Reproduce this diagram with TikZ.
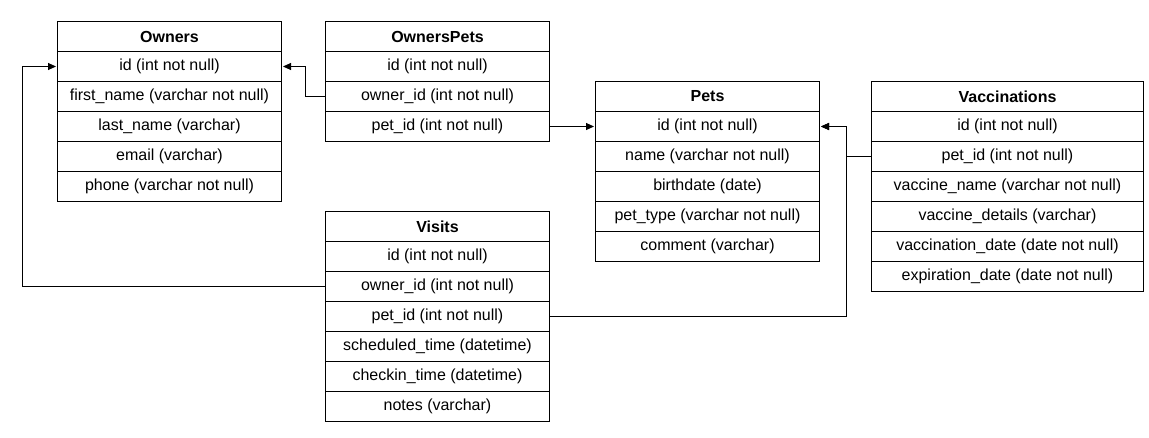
\documentclass[tikz,border=0pt]{standalone}
\usepackage{fontspec}
\setmainfont{Liberation Sans}
\usetikzlibrary{arrows.meta}
\tikzset{
  cell/.style={draw=black, line width=1pt, minimum height=30pt, inner sep=0pt, anchor=north west, font=\fontsize{16}{19}\selectfont},
  hdr/.style={cell, font=\fontsize{16}{19}\selectfont\bfseries},
  narrow/.style={minimum width=224pt},
  wide/.style={minimum width=272pt},
  conn/.style={draw=black, line width=1pt, -{Triangle[length=8pt,width=7pt]}, shorten >=1pt},
  plain/.style={draw=black, line width=1pt},
}
\begin{document}
\begin{tikzpicture}[x=1pt, y=-1pt]
\fill[white] (0,0) rectangle (1149,437);
\useasboundingbox (0,0) rectangle (1149,437);
% Owners
\node[hdr, narrow] (ow) at (57,21) {Owners};
\node[cell, narrow] (owid) at (57,51) {id (int not null)};
\node[cell, narrow] (owfn) at (57,81) {first\_name (varchar not null)};
\node[cell, narrow] (owln) at (57,111) {last\_name (varchar)};
\node[cell, narrow] (owem) at (57,141) {email (varchar)};
\node[cell, narrow] (owph) at (57,171) {phone (varchar not null)};
% OwnersPets
\node[hdr, narrow] (op) at (325,21) {OwnersPets};
\node[cell, narrow] (opid) at (325,51) {id (int not null)};
\node[cell, narrow] (opown) at (325,81) {owner\_id (int not null)};
\node[cell, narrow] (oppet) at (325,111) {pet\_id (int not null)};
% Pets
\node[hdr, narrow] (pt) at (595,81) {Pets};
\node[cell, narrow] (ptid) at (595,111) {id (int not null)};
\node[cell, narrow] (ptnm) at (595,141) {name (varchar not null)};
\node[cell, narrow] (ptbd) at (595,171) {birthdate (date)};
\node[cell, narrow] (ptty) at (595,201) {pet\_type (varchar not null)};
\node[cell, narrow] (ptcm) at (595,231) {comment (varchar)};
% Vaccinations
\node[hdr, wide] (va) at (871,81) {Vaccinations};
\node[cell, wide] (vaid) at (871,111) {id (int not null)};
\node[cell, wide] (vapet) at (871,141) {pet\_id (int not null)};
\node[cell, wide] (vanm) at (871,171) {vaccine\_name (varchar not null)};
\node[cell, wide] (vadt) at (871,201) {vaccine\_details (varchar)};
\node[cell, wide] (vavd) at (871,231) {vaccination\_date (date not null)};
\node[cell, wide] (vaed) at (871,261) {expiration\_date (date not null)};
% Visits
\node[hdr, narrow] (vi) at (325,211) {Visits};
\node[cell, narrow] (viid) at (325,241) {id (int not null)};
\node[cell, narrow] (viown) at (325,271) {owner\_id (int not null)};
\node[cell, narrow] (vipet) at (325,301) {pet\_id (int not null)};
\node[cell, narrow] (visc) at (325,331) {scheduled\_time (datetime)};
\node[cell, narrow] (vick) at (325,361) {checkin\_time (datetime)};
\node[cell, narrow] (vint) at (325,391) {notes (varchar)};
% elbow columns
\coordinate (jop) at (305,0);
\coordinate (jpet) at (846,0);
\coordinate (jvis) at (22,0);
% connectors
\draw[conn] (opown.west) -- (opown.west -| jop) |- (owid.east);
\draw[conn] (oppet.east) -- (ptid.west);
\draw[conn] (vapet.west) -- (vapet.west -| jpet) |- (ptid.east);
\draw[conn] (vipet.east) -- (vipet.east -| jpet) |- (ptid.east);
\draw[conn] (viown.west) -- (viown.west -| jvis) |- (owid.west);
\end{tikzpicture}
\end{document}
